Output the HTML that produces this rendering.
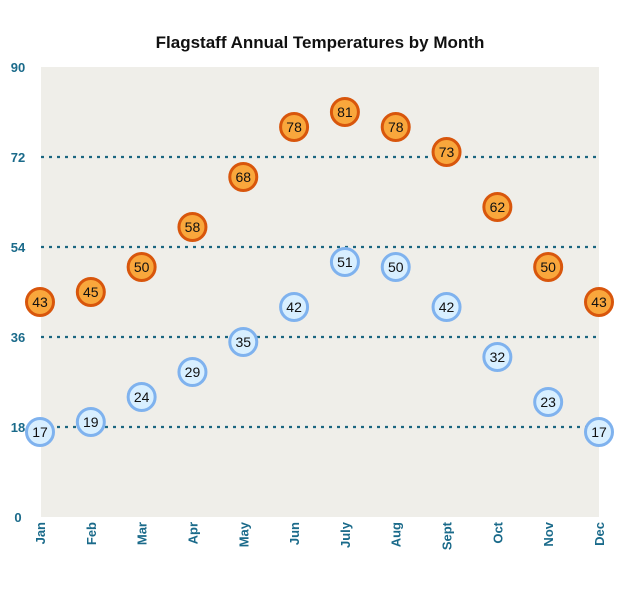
<!DOCTYPE html>
<html><head><meta charset="utf-8"><style>
body{margin:0;background:#fff;font-family:"Liberation Sans",Arial,sans-serif}
</style></head><body>
<svg id="chart" width="632" height="585" xmlns="http://www.w3.org/2000/svg">
<text x="320" y="48" text-anchor="middle" font-size="17" font-weight="bold" fill="#111">Flagstaff Annual Temperatures by Month</text>
<rect x="41" y="67" width="558" height="450" fill="#efeee9"/>
<g id="grid"></g><g id="yticks"></g><g id="xticks"></g><g id="marks"></g>
</svg>
<script>
const months=["Jan","Feb","Mar","Apr","May","Jun","July","Aug","Sept","Oct","Nov","Dec"];
const highs=[43,45,50,58,68,78,81,78,73,62,50,43];
const lows=[17,19,24,29,35,42,51,50,42,32,23,17];
const yTicks=[0,18,36,54,72,90];
const gridVals=[18,36,54,72];
const NS="http://www.w3.org/2000/svg";
const x=i=>40+i*(559/11);
const y=v=>517-v*5;
function mk(t,a,p){const e=document.createElementNS(NS,t);for(const k in a)e.setAttribute(k,a[k]);p.appendChild(e);return e;}
const grid=document.getElementById('grid'),yt=document.getElementById('yticks'),xt=document.getElementById('xticks'),mg=document.getElementById('marks');
gridVals.forEach(v=>{const l=mk('line',{x1:41,x2:599,y1:y(v),y2:y(v),stroke:'#1b6680','stroke-width':2.2,'stroke-dasharray':'3 5'},grid);

});
yTicks.forEach(v=>{const t=mk('text',{x:18,y:y(v)+5,'text-anchor':'middle','font-size':13,'font-weight':'bold',fill:'#1a6a8a'},yt);t.textContent=v;

});
months.forEach((m,i)=>{const t=mk('text',{transform:`translate(${x(i)+5},522) rotate(-90)`,'text-anchor':'end','font-size':13,'font-weight':'bold',fill:'#1a6a8a'},xt);t.textContent=m;

});
function series(vals,fill,stroke,name){vals.forEach((v,i)=>{const g=mk('g',{},mg);


mk('circle',{cx:x(i),cy:y(v),r:13.5,fill:fill,stroke:stroke,'stroke-width':3},g);
const t=mk('text',{x:x(i),y:y(v)+5,'text-anchor':'middle','font-size':14,fill:'#111'},g);t.textContent=v;});}
series(lows,'#d8efff','#7fb2ee','low');
series(highs,'#f9a73c','#d8560c','high');
</script>
</body></html>
